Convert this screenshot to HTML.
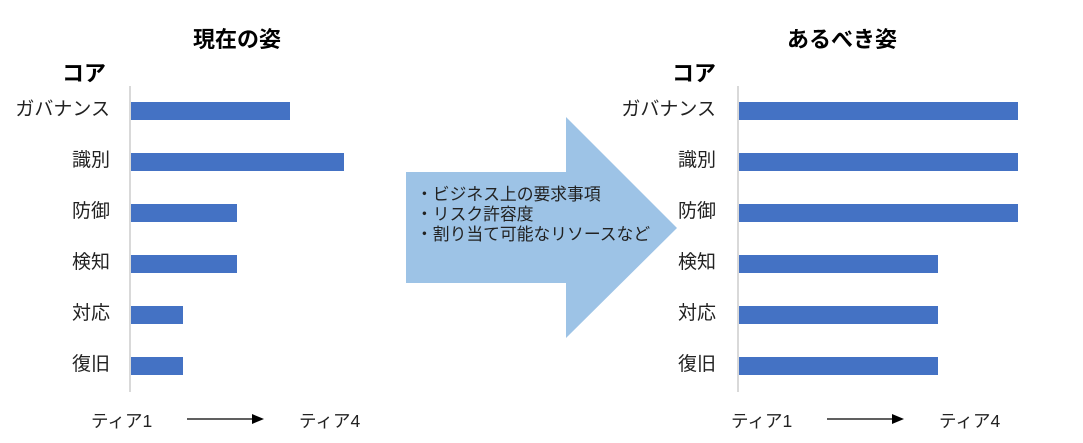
<!DOCTYPE html>
<html><head><meta charset="utf-8"><style>
body{margin:0;width:1083px;height:443px;background:#fff;position:relative;overflow:hidden;font-family:"Liberation Sans","Noto Sans CJK JP",sans-serif;color:#222}
.a{position:absolute;white-space:nowrap}
.t{font-weight:bold;font-size:22px;color:#000}
.l{font-size:19px;text-align:right;width:110px}
.b{position:absolute;height:18px;background:#4472c4}
.ax{position:absolute;width:2px;background:#d9d9d9;top:86px;height:306px}
.tier{font-size:17.5px}
</style></head><body>
<div class="a t" style="left:193px;top:22px">現在の姿</div>
<div class="a t" style="left:787px;top:22px">あるべき姿</div>
<div class="a t" style="left:62px;top:56px;font-size:22px">コア</div>
<div class="a t" style="left:672px;top:56px;font-size:22px">コア</div>

<div class="ax" style="left:129px"></div>
<div class="ax" style="left:737px"></div>

<div class="a l" style="left:0;top:94px">ガバナンス</div>
<div class="a l" style="left:0;top:145px">識別</div>
<div class="a l" style="left:0;top:196px">防御</div>
<div class="a l" style="left:0;top:247px">検知</div>
<div class="a l" style="left:0;top:298px">対応</div>
<div class="a l" style="left:0;top:349px">復旧</div>

<div class="a l" style="left:606px;top:94px">ガバナンス</div>
<div class="a l" style="left:606px;top:145px">識別</div>
<div class="a l" style="left:606px;top:196px">防御</div>
<div class="a l" style="left:606px;top:247px">検知</div>
<div class="a l" style="left:606px;top:298px">対応</div>
<div class="a l" style="left:606px;top:349px">復旧</div>

<div class="b" style="left:131px;top:102px;width:159px"></div>
<div class="b" style="left:131px;top:153px;width:213px"></div>
<div class="b" style="left:131px;top:204px;width:106px"></div>
<div class="b" style="left:131px;top:255px;width:106px"></div>
<div class="b" style="left:131px;top:306px;width:52px"></div>
<div class="b" style="left:131px;top:357px;width:52px"></div>

<div class="b" style="left:739px;top:102px;width:279px"></div>
<div class="b" style="left:739px;top:153px;width:279px"></div>
<div class="b" style="left:739px;top:204px;width:279px"></div>
<div class="b" style="left:739px;top:255px;width:199px"></div>
<div class="b" style="left:739px;top:306px;width:199px"></div>
<div class="b" style="left:739px;top:357px;width:199px"></div>

<svg class="a" style="left:0;top:0" width="1083" height="443">
<polygon points="406,172 566,172 566,117 677,228 566,338 566,283 406,283" fill="#9dc3e6"/>
<line x1="187" y1="419" x2="254" y2="419" stroke="#000" stroke-width="1.3"/>
<polygon points="252,414 264,419 252,424" fill="#000"/>
<line x1="827" y1="419" x2="894" y2="419" stroke="#000" stroke-width="1.3"/>
<polygon points="892,414 904,419 892,424" fill="#000"/>
</svg>
<div class="a" style="left:416px;top:185px;font-size:16.8px;line-height:20px;color:#222">・ビジネス上の要求事項<br>・リスク許容度<br>・割り当て可能なリソースなど</div>

<div class="a tier" style="left:91px;top:408px">ティア1</div>
<div class="a tier" style="left:299px;top:408px">ティア4</div>
<div class="a tier" style="left:731px;top:408px">ティア1</div>
<div class="a tier" style="left:939px;top:408px">ティア4</div>
</body></html>
